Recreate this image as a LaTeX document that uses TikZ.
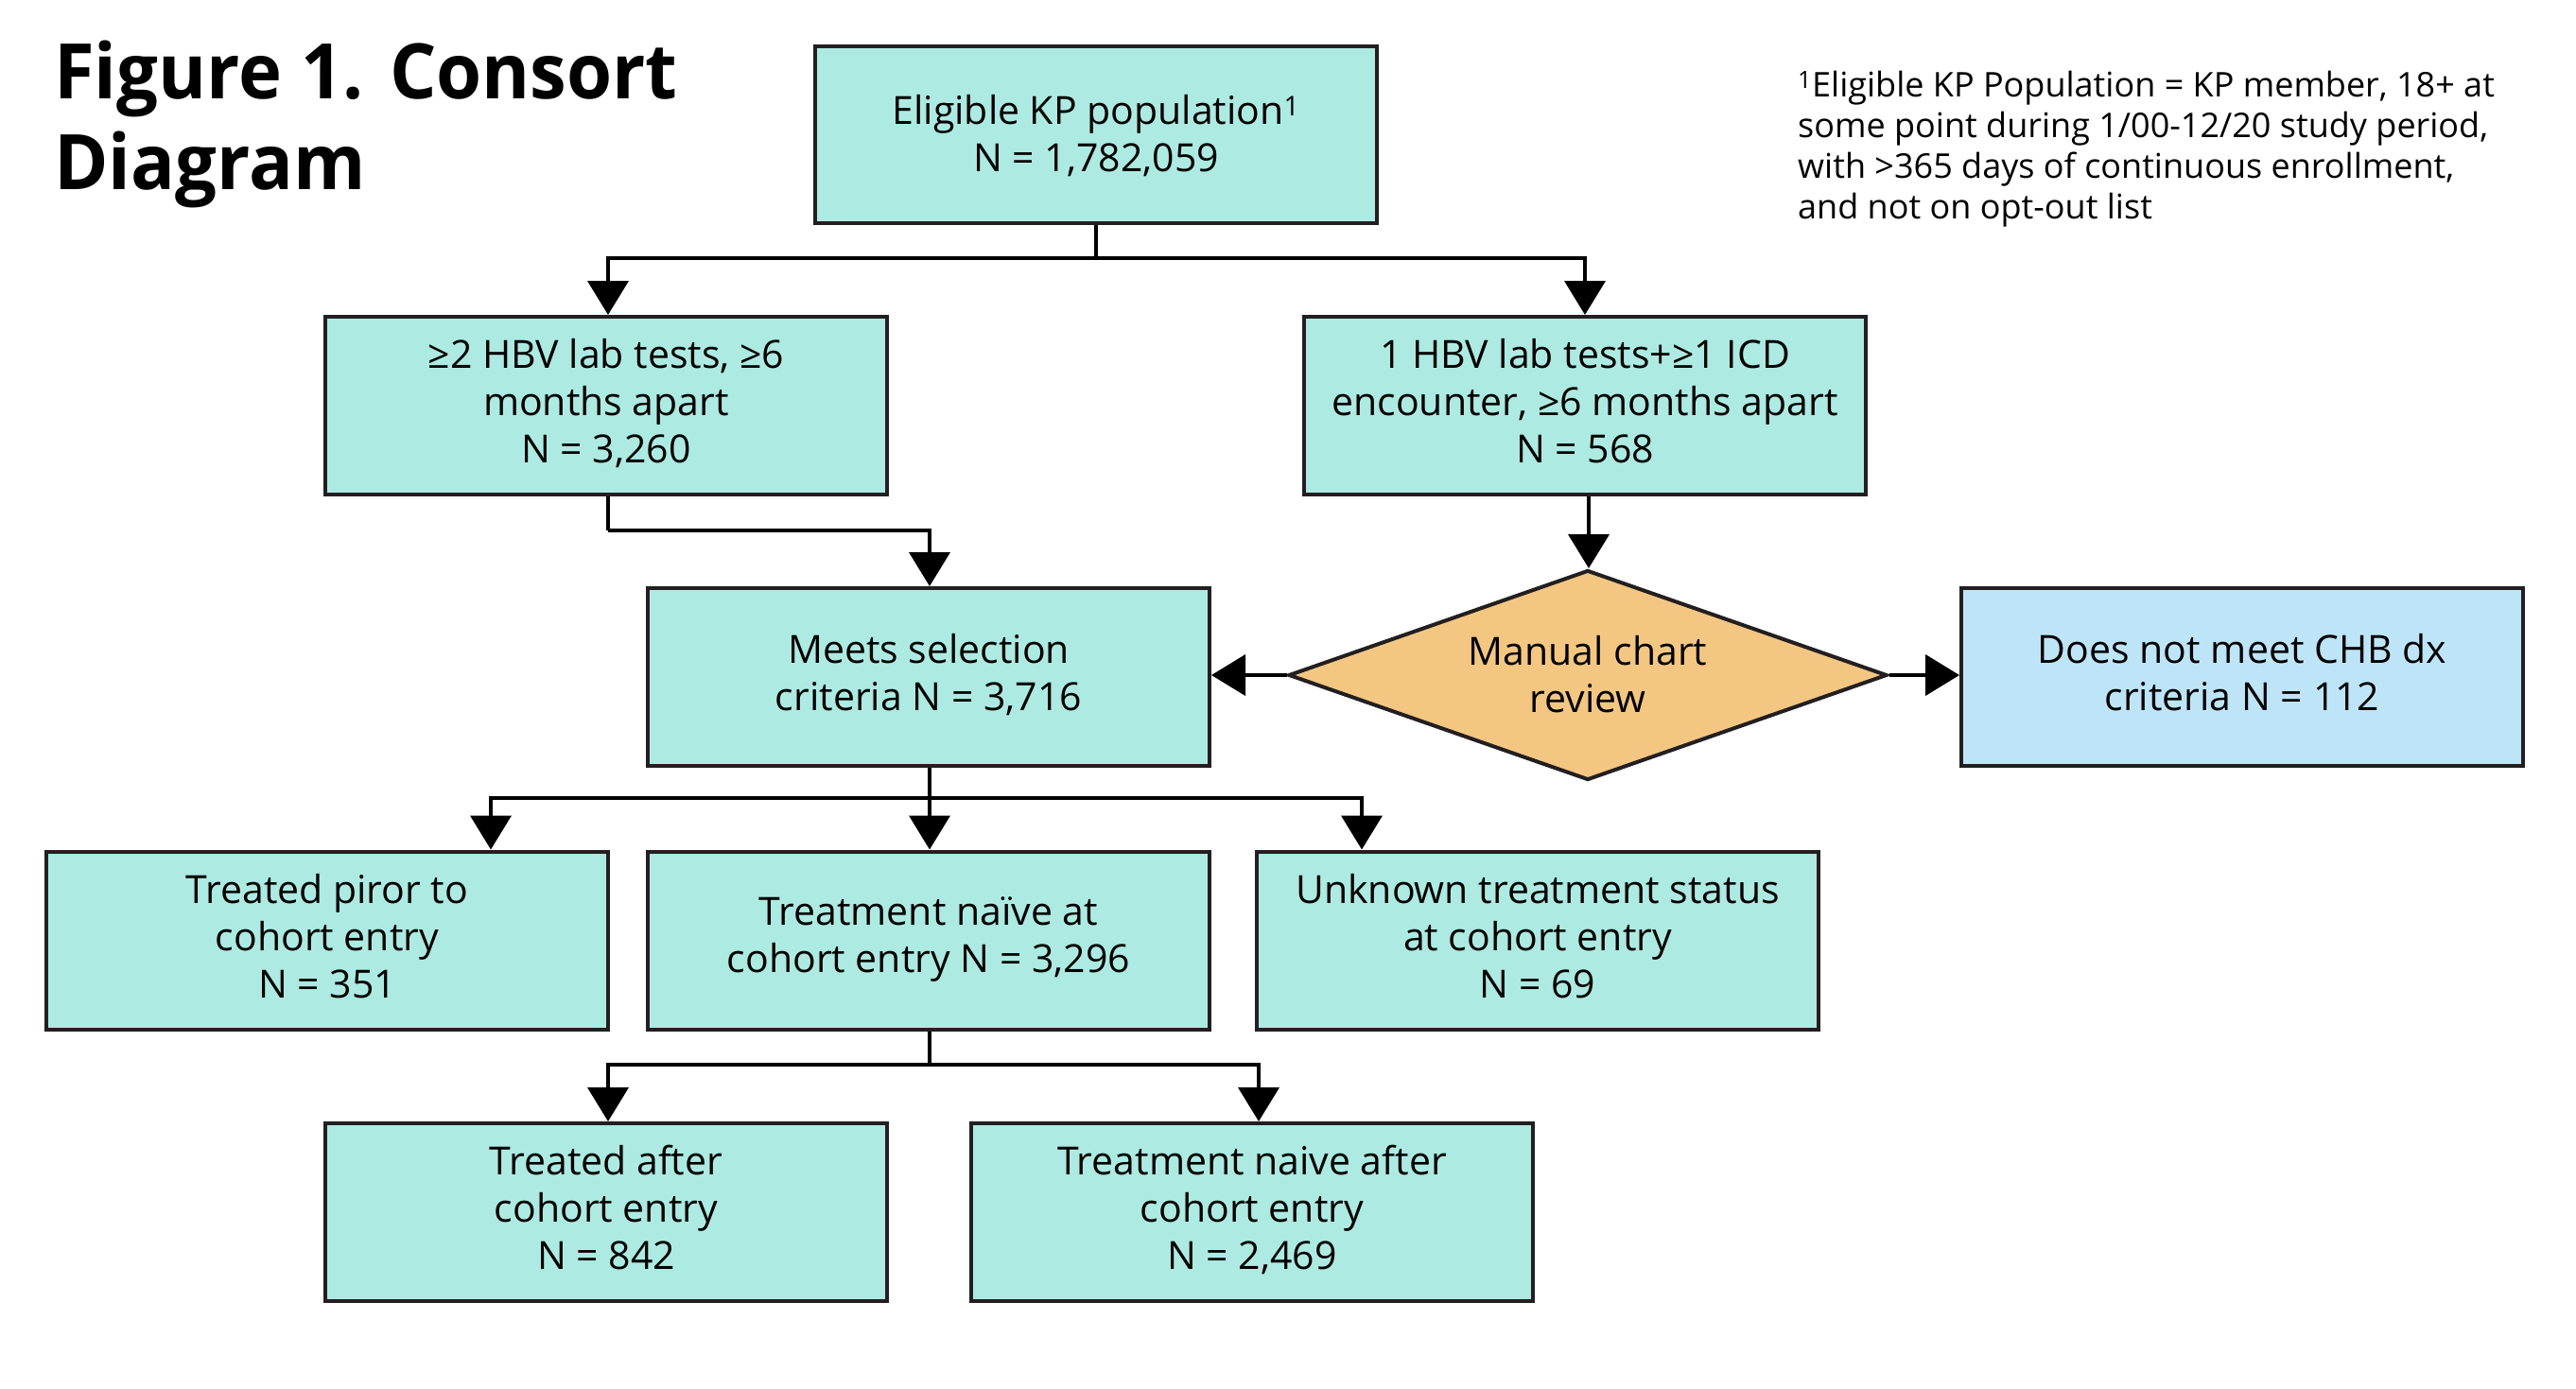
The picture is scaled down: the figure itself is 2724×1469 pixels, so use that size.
\documentclass[tikz,border=0pt]{standalone}
\usepackage{fontspec}
\setmainfont{Open Sans}
\newfontfamily\titlefont{Open Sans}[FakeStretch=0.96]
\usetikzlibrary{arrows.meta,shapes.geometric}
\definecolor{aqua}{HTML}{ADEAE2}
\definecolor{ochre}{HTML}{F3C782}
\definecolor{skyb}{HTML}{BEE5F7}
\definecolor{ink}{HTML}{231F20}
\newcommand{\st}{\rule[-11pt]{0pt}{39pt}}
\newcommand{\sth}[1]{\rule[-11pt]{0pt}{#1pt}}
\begin{document}
\begin{tikzpicture}[x=1pt,y=-1pt,
  txt/.style={align=center, font=\fontsize{41}{50}\selectfont},
  box/.style={draw=ink, line width=4pt, fill=aqua, minimum width=594pt, minimum height=188pt,
    inner sep=0pt, txt},
  conn/.style={line width=4pt, draw=black},
  arr/.style={conn, -{Triangle[width=43pt,length=36pt]}},
]
\useasboundingbox (0,0) rectangle (2724,1469);
\fill[white] (0,0) rectangle (2724,1469);

% title and footnote
\node[anchor=base west, inner sep=0pt, font=\fontsize{81}{95}\selectfont\titlefont\bfseries] (title1) at (57,105) {Figure 1. Consort};
\node[anchor=base west, inner sep=0pt, font=\fontsize{81}{95}\selectfont\titlefont\bfseries] (title2) at (57,200) {Diagram};
\node[anchor=north west, inner sep=0pt, align=left, font=\fontsize{36}{43}\selectfont] (foot) at (1901,75)
 {\textsuperscript{1}Eligible KP Population = KP member, 18+ at\\some point during 1/00-12/20 study period,\\with >365 days of continuous enrollment,\\and not on opt-out list};

% boxes
\node[box, minimum height=187pt] (top) at (1159,142.5) {\sth{50}Eligible KP population\textsuperscript{1}\\\st N = 1,782,059};
\node[box] (A) at (641,429) {\st≥2 HBV lab tests, ≥6\\\st months apart\\\st N = 3,260};
\node[box] (B) at (1676,429) {\st 1 HBV lab tests+≥1 ICD\\\st encounter, ≥6 months apart\\\st N = 568};
\node[box] (meets) at (982,716) {\st Meets selection\\\st criteria N = 3,716};
\node[draw=ink, line width=4pt, fill=ochre, diamond, aspect=2.85, minimum width=633pt, minimum height=222pt,
  inner sep=0pt, txt] (dia) at (1679,714) {\sth{50}Manual chart\\\st review};
\node[box, fill=skyb] (dnm) at (2371,716) {\st Does not meet CHB dx\\\st criteria N = 112};
\node[box] (tp) at (346,994.5) {\sth{43}Treated piror to\\\st cohort entry\\\st N = 351};
\node[box] (tn) at (982,994.5) {\st Treatment naïve at\\\st cohort entry N = 3,296};
\node[box] (unk) at (1626,994.5) {\sth{43}Unknown treatment status\\\st at cohort entry\\\st N = 69};
\node[box] (ta) at (641,1282) {\st Treated after\\\st cohort entry\\\st N = 842};
\node[box] (tna) at (1324,1282) {\st Treatment naive after\\\st cohort entry\\\st N = 2,469};

% junction coordinates
\coordinate (j1) at (1159,273);
\coordinate (j2) at (643,561);
\coordinate (j3) at (983,844);
\coordinate (j4) at (983,1126);

% connectors
\draw[conn] (top.south) -- (j1);
\draw[arr] (j1) -| ([xshift=2pt]A.north);
\draw[arr] (j1) -| (B.north);
\draw[conn] ([xshift=2pt]A.south) -- (j2);
\draw[arr] (j2) -| ([xshift=1pt]meets.north);
\draw[arr] ([xshift=4pt]B.south) -- ([xshift=4pt]B.south |- dia.north);
\draw[arr] (dia.west) -- (dia.west -| meets.east);
\draw[arr] (dia.east) -- (dia.east -| dnm.west);
\draw[conn] ([xshift=1pt]meets.south) -- (j3);
\draw[arr] (j3) -| ([xshift=173pt]tp.north);
\draw[arr] (j3) -- (j3 |- tn.north);
\draw[arr] (j3) -| ([xshift=-186pt]unk.north);
\draw[conn] ([xshift=1pt]tn.south) -- (j4);
\draw[arr] (j4) -| ([xshift=2pt]ta.north);
\draw[arr] (j4) -| ([xshift=7pt]tna.north);
\end{tikzpicture}
\end{document}
